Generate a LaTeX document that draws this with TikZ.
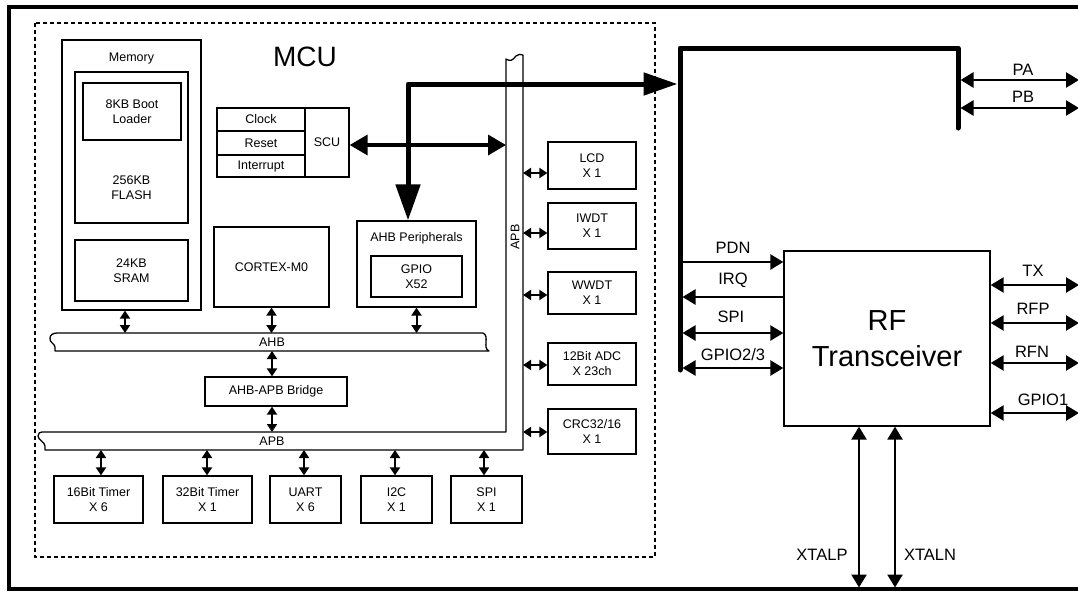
\documentclass[tikz,border=0pt]{standalone}
\usepackage{fontspec}
\setmainfont{Liberation Sans}
\usetikzlibrary{arrows.meta}
\begin{document}
\begin{tikzpicture}[x=1pt,y=-1pt,
  wh/.style 2 args={minimum width=#1pt, minimum height=#2pt},
  bx/.style={draw, line width=1.3pt, inner sep=0pt, align=center, font=\fontsize{12.5}{15}\selectfont},
  txt/.style={inner sep=0pt, align=center, font=\fontsize{12.5}{15}\selectfont},
  lbl/.style={inner sep=0pt, font=\fontsize{16.5}{18}\selectfont},
  dbl/.style={line width=2pt, {Triangle[length=8pt,width=10pt]}-{Triangle[length=8pt,width=10pt]}},
  sgl/.style={line width=2.5pt, -{Triangle[length=13pt,width=15pt]}},
  sgd/.style={line width=2.5pt, {Triangle[length=13pt,width=15pt]}-{Triangle[length=13pt,width=15pt]}},
  busline/.style={line width=1.3pt, line join=round},
]
\useasboundingbox (0,0) rectangle (1078,592);
\clip (0,0) rectangle (1078,592);

% frames
\draw[line width=3.5pt] (9,7) rectangle (1095,589);
\draw[line width=2.8pt, dash pattern=on 4pt off 3pt] (35,23) rectangle (655,557);
\node[inner sep=0pt, font=\fontsize{28}{32}\selectfont] (mcu) at (305,57) {MCU};

% memory
\node[bx, wh={139}{270}] (mem) at (131.5,175) {};
\node[txt] (memlbl) at (131.5,58) {Memory};
\node[bx, wh={113}{151}] (flash) at (131.5,147.5) {};
\node[bx, wh={98}{57}] (boot) at (132,111.5) {8KB Boot\\Loader};
\node[txt] (flashlbl) at (131.5,187.5) {256KB\\FLASH};
\node[bx, wh={113}{61}] (sram) at (131.5,270.5) {24KB\\SRAM};

% SCU
\node[bx, wh={88}{23}] (clk) at (261,119.5) {Clock};
\node[bx, wh={88}{24}] (rst) at (261,143) {Reset};
\node[bx, wh={88}{22}] (intr) at (261,166) {Interrupt};
\node[bx, wh={44}{69}] (scu) at (327,142.5) {SCU};

% core blocks
\node[bx, wh={115}{80}] (cpu) at (271.5,267) {CORTEX-M0};
\node[bx, wh={119}{86}] (ahbp) at (416.5,264) {};
\node[txt] (ahbplbl) at (416.5,238) {AHB Peripherals};
\node[bx, wh={91}{41}] (gpio) at (416.5,276.5) {GPIO\\X52};
\node[bx, wh={142}{29}] (bridge) at (276,391.5) {AHB-APB Bridge};

% right peripherals
\node[bx, wh={88}{47}] (lcd) at (592,165.5) {LCD\\X 1};
\node[bx, wh={88}{46}] (iwdt) at (592,226) {IWDT\\X 1};
\node[bx, wh={88}{42}] (wwdt) at (592,293) {WWDT\\X 1};
\node[bx, wh={88}{42}] (adc) at (592,364) {12Bit ADC\\X 23ch};
\node[bx, wh={88}{45}] (crc) at (592,431.5) {CRC32/16\\X 1};

% bottom peripherals
\node[bx, wh={89}{47}] (t16) at (98.5,499.5) {16Bit Timer\\X 6};
\node[bx, wh={89}{47}] (t32) at (207.5,499.5) {32Bit Timer\\X 1};
\node[bx, wh={71}{47}] (uart) at (305.5,499.5) {UART\\X 6};
\node[bx, wh={71}{47}] (i2c) at (396.5,499.5) {I2C\\X 1};
\node[bx, wh={71}{47}] (spi) at (486.5,499.5) {SPI\\X 1};

% RF
\node[bx, wh={206}{175}, font=\fontsize{29}{36}\selectfont] (rf) at (887,338.5) {RF\\Transceiver};

% buses
\draw[busline] (57,333) -- (483,333) .. controls (490,336) and (482,348) .. (489,351) -- (55,351) -- (55,347) .. controls (55,344) and (49,342) .. (50,338) .. controls (50,335) and (53,333) .. (57,333) -- cycle;
\node[txt] (ahb) at (272,342) {AHB};
\draw[busline] (42,432) -- (506,432) -- (506,59) .. controls (510,62) and (513,60) .. (516,56) .. controls (518,54) and (521,54) .. (523,55) -- (523,450) -- (45,450) -- (45,446) .. controls (45,442) and (38,440) .. (38,436) .. controls (38,433) and (40,432) .. (42,432) -- cycle;
\node[txt] (apb) at (272,441) {APB};
\node[txt, rotate=90] (apbv) at (515,237) {APB};

\coordinate (ahbN) at (0,333);
\coordinate (ahbS) at (0,351);
\coordinate (apbN) at (0,432);
\coordinate (apbS) at (0,450);
\coordinate (apbE) at (523,0);
\coordinate (apbW) at (506,0);
\coordinate (bend) at (408,84);
\coordinate (busL) at (677.5,0);
\coordinate (bus) at (682.5,0);
\coordinate (busR) at (960.5,0);
\coordinate (edge) at (1079,0);
\coordinate (floor) at (0,587.5);

% AHB arrows
\draw[dbl] (mem.south -| 125,0) -- (ahbN -| 125,0);
\draw[dbl] (cpu.south) -- (cpu.south |- ahbN);
\draw[dbl] (ahbp.south) -- (ahbp.south |- ahbN);
\draw[dbl] (ahbS -| 272,0) -- (bridge.north -| 272,0);
\draw[dbl] (bridge.south -| 272,0) -- (apbN -| 272,0);

% APB bottom arrows
\draw[dbl] (t16.north -| 101,0) -- (apbS -| 101,0);
\draw[dbl] (t32.north -| 207,0) -- (apbS -| 207,0);
\draw[dbl] (uart.north -| 304,0) -- (apbS -| 304,0);
\draw[dbl] (i2c.north -| 395,0) -- (apbS -| 395,0);
\draw[dbl] (spi.north -| 484,0) -- (apbS -| 484,0);

% APB right arrows
\draw[dbl] (apbE |- 0,173) -- (lcd.west |- 0,173);
\draw[dbl] (apbE |- 0,233) -- (iwdt.west |- 0,233);
\draw[dbl] (apbE |- 0,295) -- (wwdt.west |- 0,295);
\draw[dbl] (apbE |- 0,365) -- (adc.west |- 0,365);
\draw[dbl] (apbE |- 0,432) -- (crc.west |- 0,432);

% SCU arrow
\draw[line width=3.5pt, {Triangle[length=18pt,width=20pt]}-{Triangle[length=18pt,width=20pt]}] (scu.east |- 0,145) -- (apbW |- 0,145);

% main thick arrow
\draw[line width=5pt, line join=round, {Triangle[length=36pt,width=24pt]}-{Triangle[length=34pt,width=22pt]}] (ahbp.north -| bend) -- (bend) -- (busL |- bend);

% external bus
\draw[line width=5pt, line join=round, line cap=round] (680,370) -- (680,48) -- (958,48) -- (958,128);

% PA / PB
\draw[sgd] (busR |- 0,80) -- (edge |- 0,80);
\node[lbl] (pa) at (1023,70) {PA};
\draw[sgd] (busR |- 0,108) -- (edge |- 0,108);
\node[lbl] (pb) at (1023,97) {PB};

% RF left signals
\draw[sgl] (bus |- 0,262) -- (rf.west |- 0,262);
\node[lbl] (pdn) at (733,248) {PDN};
\draw[sgl] (rf.west |- 0,297) -- (bus |- 0,297);
\node[lbl] (irqlbl) at (733,280) {IRQ};
\draw[sgd] (bus |- 0,333) -- (rf.west |- 0,333);
\node[lbl] (spilbl) at (731,317) {SPI};
\draw[sgd] (bus |- 0,368) -- (rf.west |- 0,368);
\node[lbl] (gpiolbl) at (733,355) {GPIO2/3};

% RF right signals
\draw[sgd] (rf.east |- 0,285) -- (edge |- 0,285);
\node[lbl] (tx) at (1033,271) {TX};
\draw[sgd] (rf.east |- 0,323) -- (edge |- 0,323);
\node[lbl] (rfp) at (1033,309) {RFP};
\draw[sgd] (rf.east |- 0,363) -- (edge |- 0,363);
\node[lbl] (rfn) at (1032,352) {RFN};
\draw[sgd] (rf.east |- 0,413) -- (edge |- 0,413);
\node[lbl] (gpio1) at (1043,400) {GPIO1};

% XTAL
\draw[sgd] (rf.south -| 859,0) -- (floor -| 859,0);
\draw[sgd] (rf.south -| 895,0) -- (floor -| 895,0);
\node[lbl] (xtalp) at (822,555) {XTALP};
\node[lbl] (xtaln) at (930,555) {XTALN};
\end{tikzpicture}
\end{document}
